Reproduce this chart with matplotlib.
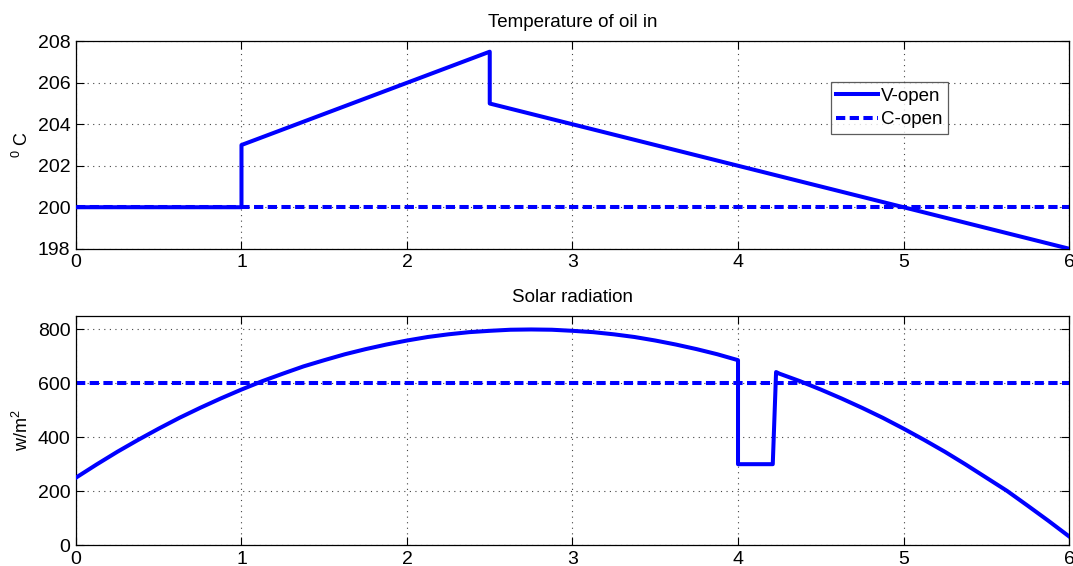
import numpy as np
import matplotlib
matplotlib.use("Agg")
import matplotlib.pyplot as plt

# =========================================================
# DATA
# =========================================================
# oil temperature, V-open case
temp_t = [0, 1, 1, 2.5, 2.5, 6]
temp_v = [200, 200, 203, 207.5, 205, 198]
# oil temperature, C-open case
temp_c_t = [0, 6]
temp_c = [200, 200]

# solar radiation, V-open case
solar_t = [0, 0.125, 0.25, 0.375, 0.5, 0.625, 0.75, 0.875, 1.0, 1.125,
           1.25, 1.375, 1.5, 1.625, 1.75, 1.875, 2.0, 2.125, 2.25, 2.375,
           2.5, 2.625, 2.75, 2.875, 3.0, 3.125, 3.25, 3.375, 3.5, 3.625,
           3.75, 3.875, 4.0, 4.0, 4.21, 4.23, 4.25, 4.375, 4.5, 4.625,
           4.75, 4.875, 5.0, 5.125, 5.25, 5.375, 5.5, 5.625, 5.75, 5.875, 6.0]
solar_v = [250, 299, 346, 390, 432, 472, 509, 544, 577, 608,
           636, 663, 686, 708, 727, 744, 759, 772, 782, 790,
           795, 799, 800, 799, 795, 790, 782, 772, 759, 744,
           727, 708, 686, 300, 300, 642, 636, 608, 577, 544,
           509, 472, 432, 390, 346, 299, 250, 201, 146, 90, 32]
# solar radiation, C-open case
solar_c_t = [0, 6]
solar_c = [600, 600]

x_ticks = [0, 1, 2, 3, 4, 5, 6]
temp_ticks = [198, 200, 202, 204, 206, 208]
solar_ticks = [0, 200, 400, 600, 800]

# =========================================================
# STYLE
# =========================================================
plt.rcParams["font.family"] = ["Liberation Sans", "DejaVu Sans"]
plt.rcParams["mathtext.fontset"] = "custom"
plt.rcParams["mathtext.rm"] = "Liberation Sans"
plt.rcParams["mathtext.it"] = "Liberation Sans"
BLUE = "#0000ff"
LW = 2.9
DASH = (0, (2.3, 1.1))


def matlab_axes(ax):
    ax.grid(True, linestyle=(0, (1, 4)), color="#444444", linewidth=0.8)
    ax.tick_params(direction="in", top=True, right=True, length=6,
                   labelsize=14, width=0.8)
    ax.tick_params(axis="x", pad=4)
    ax.tick_params(axis="y", pad=4)
    for s in ax.spines.values():
        s.set_linewidth(0.9)
    ax.set_axisbelow(True)


fig = plt.figure(figsize=(10.73, 5.66), dpi=100)
ax1 = fig.add_axes([0.0708, 0.5606, 0.9255, 0.3664])
ax2 = fig.add_axes([0.0708, 0.0371, 0.9255, 0.4046])

# =========================================================
# TOP: temperature of oil
# =========================================================
ax1.plot(temp_c_t, temp_c, color=BLUE, lw=LW, ls=DASH, label="C-open", zorder=2)
ax1.plot(temp_t, temp_v, color=BLUE, lw=LW, label="V-open", zorder=3)
ax1.set_xlim(0, 6)
ax1.set_ylim(198, 208)
ax1.set_xticks(x_ticks)
ax1.set_yticks(temp_ticks)
ax1.set_title("Temperature of oil in", fontsize=13.5, pad=10)
ax1.set_ylabel("$^0$ C", fontsize=13, labelpad=4)
matlab_axes(ax1)
h, l = ax1.get_legend_handles_labels()
leg = ax1.legend(h[::-1], l[::-1], loc="upper left", bbox_to_anchor=(0.760, 0.805),
                 fontsize=13.5, frameon=True, fancybox=False, handlelength=2.2,
                 handletextpad=0.2, borderpad=0.3, labelspacing=0.35,
                 borderaxespad=0)
leg.get_frame().set_edgecolor("#333333")
leg.get_frame().set_linewidth(0.9)

# =========================================================
# BOTTOM: solar radiation
# =========================================================
ax2.plot(solar_c_t, solar_c, color=BLUE, lw=LW, ls=DASH, zorder=2)
ax2.plot(solar_t, solar_v, color=BLUE, lw=LW, zorder=3, solid_joinstyle="round")
ax2.set_xlim(0, 6)
ax2.set_ylim(0, 850)
ax2.set_xticks(x_ticks)
ax2.set_yticks(solar_ticks)
ax2.set_title("Solar radiation", fontsize=13.5, pad=10)
ax2.set_ylabel("w/m$^2$", fontsize=13, labelpad=4)
matlab_axes(ax2)

fig.savefig("out.png", dpi=100)
